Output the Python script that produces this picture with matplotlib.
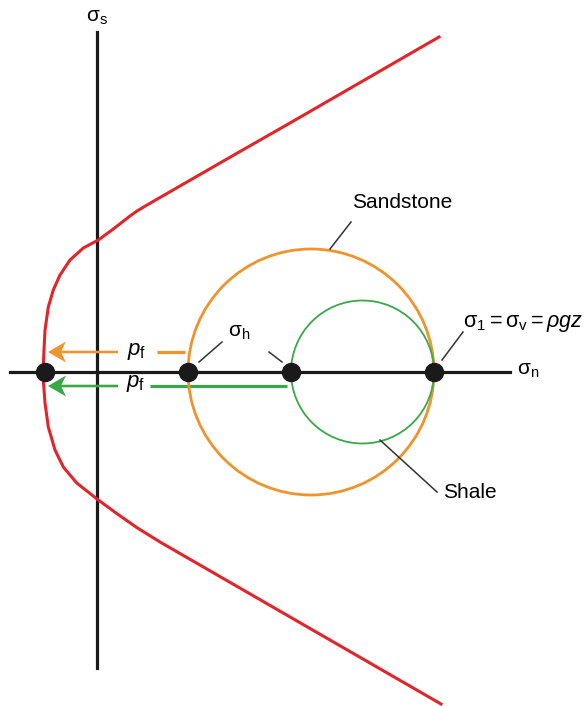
"""
Mohr circle sketch: sandstone vs shale with failure envelope
"""
import matplotlib
matplotlib.use("Agg")
import matplotlib.pyplot as plt
from matplotlib.patches import Circle

plt.rcParams['font.family'] = ['Liberation Sans', 'DejaVu Sans']
plt.rcParams['mathtext.fontset'] = 'custom'
plt.rcParams['mathtext.rm'] = 'Liberation Sans'
plt.rcParams['mathtext.it'] = 'Liberation Sans:italic'

RED = '#e2252b'
ORANGE = '#f0932c'
GREEN = '#3aa847'
INK = '#1a1a1a'
LEAD = '#333333'

# stress states on the sigma_n axis (arbitrary units)
sigma_fail = -52           # where pore pressure drives the circle
sandstone = (91, 337)      # (sigma_3, sigma_1)
shale = (194, 337)

# failure envelope
env_up_x = [-54, -53, -52, -48.7, -43.7, -37, -27, -13.7, 1.3, 16.3, 33,
            40, 50, 70, 103, 143, 193, 342]
env_up_y = [0, 22, 42, 65, 82, 97, 112, 124, 132, 143, 156,
            161, 167, 178.5, 197.5, 220.5, 249, 335]
env_lo_x = [-54, -53.7, -52, -48.7, -42, -33.7, -20.3, 1.3, 19.7, 39.7, 63, 344]
env_lo_y = [0, -8, -31, -55, -78, -95, -111, -128, -141.5, -155.5, -170, -332]

fig = plt.figure(figsize=(5.86, 7.06), dpi=100)
ax = fig.add_axes([0, 0, 1, 1])
ax.set_xlim(-97, 489)
ax.set_ylim(-334, 372)
ax.set_aspect('equal')
ax.axis('off')

# axes
ax.plot([-87, 413], [0, 0], color=INK, lw=2.3, zorder=2)
ax.plot([0, 0], [-296, 340], color=INK, lw=2.3, zorder=2)
ax.text(0, 355, r'$\mathrm{\sigma}_\mathrm{s}$', fontsize=15, ha='center', va='center')
ax.text(420, 1, r'$\mathrm{\sigma}_\mathrm{n}$', fontsize=15, ha='left', va='center')

# envelope
ax.plot(env_up_x, env_up_y, color=RED, lw=2.2, zorder=4, solid_joinstyle='round')
ax.plot(env_lo_x, env_lo_y, color=RED, lw=2.2, zorder=4, solid_joinstyle='round')

# Mohr circles
for (s3, s1), col, lw in [(sandstone, ORANGE, 2.0), (shale, GREEN, 1.3)]:
    c = Circle(((s1 + s3) / 2, 0), (s1 - s3) / 2, fill=False, ec=col, lw=lw, zorder=3)
    ax.add_patch(c)

# pore pressure arrows
def pf_arrow(start, y, gap0, gap1, col):
    ax.plot([gap1, start], [y, y], color=col, lw=2.3, zorder=2, solid_capstyle='butt')
    tip = sigma_fail + 3
    ax.arrow(gap0, y, tip - gap0, 0, width=2.6, head_width=21, head_length=18,
             length_includes_head=True, overhang=0.25, color=col, lw=0, zorder=2)

pf_arrow(sandstone[0] - 3, 20, 21, 60, ORANGE)
pf_arrow(shale[0] - 4, -14, 21, 53, GREEN)
ax.text(40, 20, r'$p_\mathrm{f}$', fontsize=16, ha='center', va='center')
ax.text(39, -12, r'$p_\mathrm{f}$', fontsize=16, ha='center', va='center')

# points
ax.plot([sigma_fail, sandstone[0], shale[0], shale[1]], [0, 0, 0, 0], 'o',
        color=INK, ms=13, zorder=5)

# leaders and labels
leaders = [((233, 123), (254, 150)), ((102, 10), (125, 30)),
           ((172, 20), (185, 10)), ((345, 12), (366, 40)),
           ((283, -68), (340, -120))]
for (x0, y0), (x1, y1) in leaders:
    ax.plot([x0, x1], [y0, y1], color=LEAD, lw=1.1, zorder=6)

ax.text(255, 169, 'Sandstone', fontsize=15, ha='left', va='center')
ax.text(346, -121, 'Shale', fontsize=15, ha='left', va='center')
ax.text(131, 40, r'$\mathrm{\sigma}_\mathrm{h}$', fontsize=15, ha='left', va='center')
ax.text(366, 49, r'$\mathrm{\sigma}_1 = \mathrm{\sigma}_\mathrm{v} = \rho gz$',
        fontsize=15.5, ha='left', va='center')

fig.savefig('out.png', dpi=100)
